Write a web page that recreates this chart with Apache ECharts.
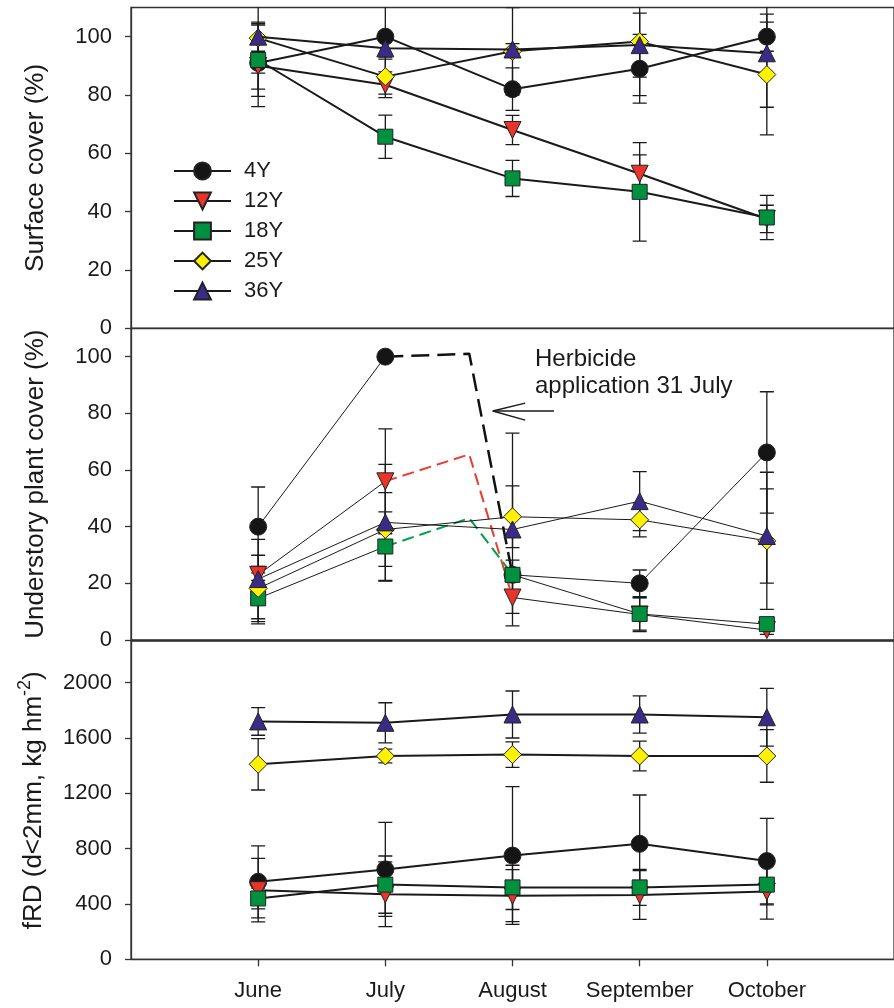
<!DOCTYPE html>
<html><head><meta charset="utf-8">
<script src="https://cdn.jsdelivr.net/npm/echarts@6/dist/echarts.min.js"></script>
<style>html,body{margin:0;padding:0;background:#fff}#c{width:894px;height:1008px}</style>
</head><body><div id="c"></div>
<script>
// ---------- data ----------
const months = ['June', 'July', 'August', 'September', 'October'];
const monthPos = [1, 2, 3, 4, 5];
const groups = ['4Y', '12Y', '18Y', '25Y', '36Y'];

// Surface cover (%)
const surface4Y  = [91, 100, 82, 89, 100];
const surface12Y = [90, 83.5, 68, 53, 37.5];
const surface18Y = [92, 65.7, 51.4, 46.8, 38];
const surface25Y = [99.5, 86.3, 95, 98.3, 87];
const surface36Y = [100, 96, 95.6, 97.1, 94.3];
const surfaceErr4Y  = [9, 14, 7.3, 11.8, 5];
const surfaceErr12Y = [14, 4.4, 5, 6.5, 4.7];
const surfaceErr18Y = [12.5, 7.4, 6.2, 16.9, 7.6];
const surfaceErr25Y = [12, 6, 15, 18.5, 20.7];
const surfaceErr36Y = [5, 3, 2, 11, 18.5];

// Understory plant cover (%)
const under4Y  = [40, 100, 23, 20, 66.2];
const under12Y = [23, 56, 15, 9, 3.5];
const under18Y = [14.7, 33, 23, 9.2, 5.6];
const under25Y = [18.2, 39, 43.5, 42.4, 35];
const under36Y = [21.5, 41.5, 39, 49, 36.7];
const underErr4Y  = [14, 0, 0, 4.7, 21.4];
const underErr12Y = [2, 18.5, 5.6, 6, 1.5];
const underErr18Y = [9, 12.2, 5.2, 5.7, 2];
const underErr25Y = [11.7, 13, 10.9, 6, 24.2];
const underErr36Y = [14, 20.5, 34, 10.4, 16.6];
// herbicide application (31 July) intermediate points
const herbX = 2.66;
const herb4Y = 101;
const herb12Y = 65.5;
const herb18Y = 43;
const annotationText = ['Herbicide', 'application 31 July'];
const arrowShaft = [[3.326, 80.8], [2.845, 80.8]];
const arrowHead = [[3.10, 83.6], [2.845, 80.8], [3.10, 77.6]];

// fRD (d<2mm, kg hm-2)
const frd4Y  = [560, 650, 750, 835, 710];
const frd12Y = [500, 470, 460, 465, 490];
const frd18Y = [440, 540, 520, 520, 540];
const frd25Y = [1410, 1470, 1480, 1470, 1470];
const frd36Y = [1720, 1710, 1770, 1770, 1750];
const frdErr4Y  = [260, 340, 498, 353, 309];
const frdErr12Y = [230, 234, 188, 176, 200];
const frdErr18Y = [75, 207, 160, 130, 147];
const frdErr25Y = [186, 50, 92, 108, 190];
const frdErr36Y = [100, 145, 170, 134, 209];

const surfaceTicks = [0, 20, 40, 60, 80, 100];
const underTicks = [0, 20, 40, 60, 80, 100];
const frdTicks = [0, 400, 800, 1200, 1600, 2000];

// ---------- styles ----------
const FONT = "'Liberation Sans', Arial, Helvetica, sans-serif";
const TXT = '#1a1a1a';
const style = {
  '4Y':  {symbol: 'circle',   size: 17, rotate: 0,   color: '#151515'},
  '12Y': {symbol: 'triangle', size: 17, rotate: 180, color: '#E8342A'},
  '18Y': {symbol: 'rect',     size: 15, rotate: 0,   color: '#00913F'},
  '25Y': {symbol: 'diamond',  size: 18, rotate: 0,   color: '#FFF200'},
  '36Y': {symbol: 'triangle', size: 17, rotate: 0,   color: '#3B2A86'}
};

const surface = {'4Y': surface4Y, '12Y': surface12Y, '18Y': surface18Y, '25Y': surface25Y, '36Y': surface36Y};
const surfaceErr = {'4Y': surfaceErr4Y, '12Y': surfaceErr12Y, '18Y': surfaceErr18Y, '25Y': surfaceErr25Y, '36Y': surfaceErr36Y};
const under = {'4Y': under4Y, '12Y': under12Y, '18Y': under18Y, '25Y': under25Y, '36Y': under36Y};
const underErr = {'4Y': underErr4Y, '12Y': underErr12Y, '18Y': underErr18Y, '25Y': underErr25Y, '36Y': underErr36Y};
const herb = {'4Y': herb4Y, '12Y': herb12Y, '18Y': herb18Y};
const frd = {'4Y': frd4Y, '12Y': frd12Y, '18Y': frd18Y, '25Y': frd25Y, '36Y': frd36Y};
const frdErr = {'4Y': frdErr4Y, '12Y': frdErr12Y, '18Y': frdErr18Y, '25Y': frdErr25Y, '36Y': frdErr36Y};

function errSeries(g, vals, errs) {
  return {
    type: 'custom', xAxisIndex: g, yAxisIndex: g, silent: true, z: 1, clip: true,
    animation: false,
    data: vals.map((v, i) => [monthPos[i], v - errs[i], v + errs[i], errs[i]]).filter(d => d[3] > 0),
    encode: {x: 0, y: [1, 2]},
    renderItem(params, api) {
      const x = api.value(0);
      const lo = api.coord([x, api.value(1)]);
      const hi = api.coord([x, api.value(2)]);
      const w = 7;
      const st = {stroke: '#1a1a1a', lineWidth: 1.3};
      return {type: 'group', children: [
        {type: 'line', shape: {x1: lo[0], y1: lo[1], x2: hi[0], y2: hi[1]}, style: st},
        {type: 'line', shape: {x1: lo[0] - w, y1: lo[1], x2: lo[0] + w, y2: lo[1]}, style: st},
        {type: 'line', shape: {x1: hi[0] - w, y1: hi[1], x2: hi[0] + w, y2: hi[1]}, style: st}
      ]};
    }
  };
}

function lineSeries(g, name, data, width, z) {
  const s = style[name.split('-').pop()];
  return {
    type: 'line', name, xAxisIndex: g, yAxisIndex: g, data,
    symbol: s.symbol, symbolSize: s.size, symbolRotate: s.rotate, showSymbol: true,
    connectNulls: false, animation: false, z: z, emphasis: {disabled: true},
    lineStyle: {color: '#1a1a1a', width: width},
    itemStyle: {color: s.color, borderColor: '#222', borderWidth: 1, opacity: 1}
  };
}

const series = [];
// top panel
groups.forEach(k => series.push(errSeries(0, surface[k], surfaceErr[k])));
groups.forEach((k, i) => series.push(lineSeries(0, k, surface[k].map((v, j) => [monthPos[j], v]), 2, 3 + i * 0.01)));
// middle panel
groups.forEach(k => series.push(errSeries(1, under[k], underErr[k])));
const dashStyle = {
  '4Y':  {color: '#111111', width: 2.5, type: [18, 8]},
  '12Y': {color: '#EE3B30', width: 2,   type: [12, 6]},
  '18Y': {color: '#00A04A', width: 2,   type: [12, 6]}
};
Object.keys(herb).forEach(k => {
  series.push({
    type: 'line', name: 'dash-' + k, xAxisIndex: 1, yAxisIndex: 1, silent: true, animation: false,
    data: [[monthPos[1], under[k][1]], [herbX, herb[k]], [monthPos[2], under[k][2]]],
    symbol: 'none', lineStyle: dashStyle[k], z: 2
  });
});
groups.forEach((k, i) => {
  const v = under[k];
  let data;
  if (herb[k] !== undefined) {
    data = [[monthPos[0], v[0]], [monthPos[1], v[1]], [(monthPos[1] + monthPos[2]) / 2, null],
            [monthPos[2], v[2]], [monthPos[3], v[3]], [monthPos[4], v[4]]];
  } else {
    data = v.map((y, j) => [monthPos[j], y]);
  }
  series.push(lineSeries(1, 'U-' + k, data, 1, 3 + i * 0.01));
});
// arrow
series.push({type: 'line', xAxisIndex: 1, yAxisIndex: 1, silent: true, animation: false, data: arrowShaft,
  symbol: 'none', lineStyle: {color: '#1a1a1a', width: 1.5}, z: 4});
series.push({type: 'line', xAxisIndex: 1, yAxisIndex: 1, silent: true, animation: false, data: arrowHead,
  symbol: 'none', lineStyle: {color: '#1a1a1a', width: 1.5}, z: 4});
// bottom panel
groups.forEach(k => series.push(errSeries(2, frd[k], frdErr[k])));
groups.forEach((k, i) => series.push(lineSeries(2, 'F-' + k, frd[k].map((v, j) => [monthPos[j], v]), 2, 3 + i * 0.01)));

const gridLeft = 131, gridWidth = 774;
const grids = [
  {left: gridLeft, width: gridWidth, top: 7.5, height: 320.8},
  {left: gridLeft, width: gridWidth, top: 328.3, height: 311.7},
  {left: gridLeft, width: gridWidth, top: 641.2, height: 318.1}
].map(g => Object.assign(g, {show: true, borderColor: '#333', borderWidth: 1.3, backgroundColor: 'transparent'}));

function xAxis(g, showLabels) {
  return {
    type: 'value', gridIndex: g, min: 0, max: 6,
    axisLine: {show: true, onZero: false, lineStyle: {color: '#333', width: 1.3}},
    axisTick: {show: showLabels, length: 7, customValues: monthPos, lineStyle: {color: '#333', width: 1.3}},
    axisLabel: {show: showLabels, customValues: monthPos, margin: 21,
      formatter: v => months[monthPos.indexOf(v)] || '',
      fontFamily: FONT, fontSize: 22, color: TXT},
    splitLine: {show: false}
  };
}
function yAxis(g, max, interval, ticks, name, nameGap, rich) {
  return {
    type: 'value', gridIndex: g, min: 0, max: max, interval: interval,
    name: name, nameLocation: 'middle', nameGap: nameGap,
    nameTextStyle: Object.assign({fontFamily: FONT, fontSize: 26, color: TXT}, rich ? {rich: rich} : {}),
    axisLine: {show: true, lineStyle: {color: '#333', width: 1.3}},
    axisTick: {show: true, length: 6, customValues: ticks, lineStyle: {color: '#333', width: 1.3}},
    axisLabel: {customValues: ticks, margin: 19, fontFamily: FONT, fontSize: 22, color: TXT,
      formatter: v => String(v)},
    splitLine: {show: false}
  };
}

const option = {
  backgroundColor: '#ffffff',
  animation: false,
  grid: grids,
  xAxis: [xAxis(0, false), xAxis(1, false), xAxis(2, true)],
  yAxis: [
    yAxis(0, 110, 20, surfaceTicks, 'Surface cover (%)', 82),
    yAxis(1, 110, 20, underTicks, 'Understory plant cover (%)', 82),
    yAxis(2, 2300, 400, frdTicks, '{a|fRD (d<2mm, kg hm}{s|-2}{a|)}', 84, {
      a: {fontFamily: FONT, fontSize: 26, color: TXT, lineHeight: 31, verticalAlign: 'bottom'},
      s: {fontFamily: FONT, fontSize: 18, color: TXT, lineHeight: 31, verticalAlign: 'top'}
    })
  ],
  legend: {
    data: groups, orient: 'vertical', left: 173, top: 160, padding: 0,
    itemWidth: 57, itemHeight: 21, itemGap: 8,
    textStyle: {fontFamily: FONT, fontSize: 22, color: TXT, padding: [0, 0, 0, 8]},
    selectedMode: false
  },
  graphic: [{
    type: 'text', left: 535, top: 346, silent: true,
    style: {text: annotationText.join('\n'), font: '24px ' + FONT, fill: TXT, lineHeight: 27}
  }],
  series: series
};

const chart = echarts.init(document.getElementById('c'), null, {renderer: 'canvas'});
chart.setOption(option);
</script>
</body></html>
